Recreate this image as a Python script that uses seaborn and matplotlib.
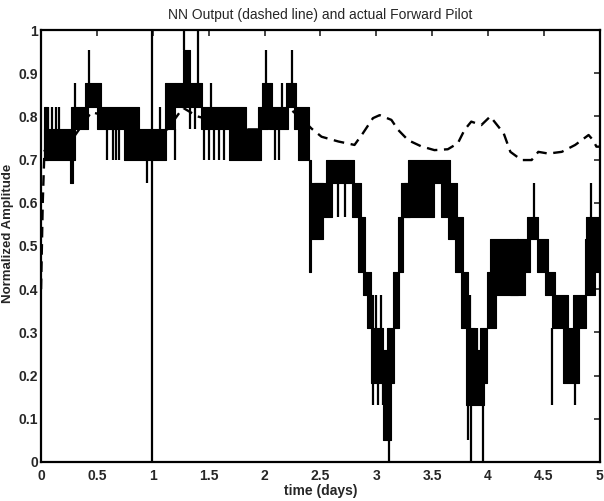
import matplotlib
matplotlib.use("Agg")
import matplotlib.pyplot as plt
import seaborn as sns
import pandas as pd

# quantised "actual Forward Pilot" signal: bands where it flickers between two levels
seg_t0 = [0.03, 0.03, 0.26, 0.27, 0.39, 0.50, 0.74, 1.11, 1.20, 1.27, 1.43, 1.68, 1.94, 1.98, 2.04, 2.19, 2.26, 2.30,
          2.40, 2.41, 2.44, 2.55, 2.78, 2.84, 2.88, 2.92, 2.95, 3.06, 3.10, 3.15, 3.19, 3.22, 3.28, 3.25, 3.58,
          3.64, 3.70, 3.76, 3.80, 3.88, 3.93, 3.99, 4.02, 4.20, 4.26, 4.345, 4.435, 4.51, 4.57, 4.675, 4.76,
          4.87, 4.88]
seg_t1 = [0.06, 0.30, 0.285, 0.42, 0.54, 0.88, 1.12, 1.20, 1.44, 1.33, 1.83, 1.97, 2.03, 2.07, 2.21, 2.28, 2.40, 2.40,
          2.42, 2.52, 2.60, 2.80, 2.86, 2.90, 2.95, 2.97, 3.06, 3.13, 3.16, 3.20, 3.24, 3.30, 3.66, 3.52, 3.66,
          3.72, 3.78, 3.82, 3.88, 3.96, 3.99, 4.07, 4.27, 4.33, 4.375, 4.45, 4.54, 4.60, 4.72, 4.81, 4.88,
          4.96, 5.0]
seg_lo = [0.699, 0.699, 0.645, 0.772, 0.822, 0.772, 0.699, 0.772, 0.822, 0.877, 0.772, 0.699, 0.772, 0.822, 0.772,
          0.822, 0.772, 0.699,
          0.44, 0.516, 0.568, 0.645, 0.568, 0.44, 0.387, 0.31, 0.182, 0.051, 0.182, 0.31, 0.44, 0.568, 0.645, 0.568,
          0.568, 0.516, 0.44, 0.31, 0.132, 0.132, 0.182, 0.31, 0.387, 0.387, 0.44, 0.516, 0.44, 0.387, 0.31, 0.182,
          0.31, 0.387, 0.44]
seg_hi = [0.822, 0.772, 0.699, 0.822, 0.877, 0.822, 0.772, 0.877, 0.877, 0.954, 0.822, 0.772, 0.822, 0.877, 0.822,
          0.877, 0.822, 0.772,
          0.699, 0.645, 0.645, 0.699, 0.645, 0.568, 0.44, 0.387, 0.31, 0.259, 0.31, 0.44, 0.568, 0.645, 0.699, 0.645,
          0.645, 0.645, 0.568, 0.44, 0.31, 0.259, 0.31, 0.44, 0.516, 0.44, 0.516, 0.568, 0.516, 0.44, 0.387, 0.31,
          0.387, 0.516, 0.568]

# isolated spikes of the signal
spike_t = [0.06, 0.10, 0.13, 0.16, 0.30, 0.43, 0.59, 0.64, 0.67, 0.70, 0.945, 0.99, 1.06, 1.20, 1.28, 1.40, 1.33,
           1.38, 1.46, 1.505, 1.55, 1.595, 1.64, 1.52, 2.01, 2.09, 2.13, 2.16, 2.25, 2.66, 2.72, 2.97, 3.015,
           3.06, 3.00, 3.04, 3.11, 3.82, 3.85, 3.955, 3.84, 3.90, 4.41, 4.57, 4.78, 4.92]
spike_lo = [0.772, 0.772, 0.772, 0.772, 0.822, 0.877, 0.699, 0.699, 0.699, 0.699, 0.645, 0.0, 0.772, 0.699, 0.954,
            0.877, 0.772, 0.772, 0.699, 0.699, 0.699, 0.699, 0.699, 0.822, 0.877, 0.699, 0.699, 0.822, 0.877,
            0.568, 0.568, 0.132, 0.132, 0.132, 0.31, 0.31, 0.0, 0.051, 0.0, 0.0, 0.31, 0.259, 0.568, 0.132,
            0.132, 0.568]
spike_hi = [0.822, 0.822, 0.822, 0.822, 0.877, 0.954, 0.772, 0.772, 0.772, 0.772, 0.699, 1.0, 0.822, 0.772, 1.0,
            1.0, 0.822, 0.822, 0.772, 0.772, 0.772, 0.772, 0.772, 0.877, 0.954, 0.772, 0.772, 0.877, 0.954,
            0.645, 0.645, 0.182, 0.182, 0.182, 0.387, 0.387, 0.051, 0.132, 0.132, 0.132, 0.387, 0.31, 0.645,
            0.31, 0.182, 0.645]

# NN output (dashed line)
nn_t = [0.0, 0.015, 0.03, 0.10, 0.20, 0.30, 0.45, 0.60, 0.75, 0.90, 1.00, 1.13, 1.27, 1.40, 1.55, 1.75, 1.97,
        2.10, 2.24, 2.35, 2.42, 2.51, 2.66, 2.805, 2.88, 2.97, 3.03, 3.135, 3.195, 3.285, 3.40, 3.52, 3.64,
        3.73, 3.79, 3.85, 3.94, 4.02, 4.14, 4.20, 4.30, 4.39, 4.45, 4.54, 4.66, 4.78, 4.90, 4.94, 4.97, 5.0]
nn_v = [0.40, 0.60, 0.72, 0.74, 0.74, 0.755, 0.81, 0.80, 0.79, 0.77, 0.76, 0.77, 0.82, 0.80, 0.79, 0.77, 0.77,
        0.80, 0.815, 0.79, 0.772, 0.753, 0.742, 0.734, 0.761, 0.796, 0.803, 0.792, 0.769, 0.745, 0.731, 0.722,
        0.724, 0.738, 0.769, 0.788, 0.78, 0.80, 0.761, 0.718, 0.699, 0.699, 0.718, 0.714, 0.718, 0.734, 0.757,
        0.745, 0.73, 0.73]

sns.set_style("white")
plt.rcParams["font.family"] = ["Liberation Sans", "DejaVu Sans"]

fig = plt.figure(figsize=(6.04, 5.01), dpi=100)
ax = fig.add_axes([0.068, 0.078, 0.925, 0.862])

for t0, t1, lo, hi in zip(seg_t0, seg_t1, seg_lo, seg_hi):
    ax.fill_between([t0, t1], lo, hi, color="black", linewidth=0.8, edgecolor="black")
ax.vlines(spike_t, spike_lo, spike_hi, color="black", linewidth=1.6)

df_nn = pd.DataFrame({"t": nn_t, "v": nn_v})
sns.lineplot(data=df_nn, x="t", y="v", ax=ax, color="black", linewidth=1.7,
             linestyle=(0, (4.5, 2.8)))

ax.set_xlim(0, 5)
ax.set_ylim(0, 1)
ax.set_xticks([0, 0.5, 1, 1.5, 2, 2.5, 3, 3.5, 4, 4.5, 5])
ax.set_xticklabels(["0", "0.5", "1", "1.5", "2", "2.5", "3", "3.5", "4", "4.5", "5"])
ax.set_yticks([0, 0.1, 0.2, 0.3, 0.4, 0.5, 0.6, 0.7, 0.8, 0.9, 1])
ax.set_yticklabels(["0", "0.1", "0.2", "0.3", "0.4", "0.5", "0.6", "0.7", "0.8", "0.9", "1"])
ax.tick_params(direction="in", top=True, right=True, length=4, width=1.2, labelsize=10)
ax.tick_params(axis="x", pad=5)
ax.tick_params(axis="y", pad=2)
for lab in ax.get_xticklabels() + ax.get_yticklabels():
    lab.set_fontweight("bold")
for sp in ax.spines.values():
    sp.set_linewidth(1.6)
    sp.set_color("black")

ax.set_title("NN Output (dashed line) and actual Forward Pilot", fontsize=10, pad=8)
ax.set_xlabel("time (days)", fontsize=10, fontweight="bold", labelpad=1)
ax.set_ylabel("Normalized Amplitude", fontsize=9.5, fontweight="bold")
ax.yaxis.set_label_coords(-0.048, 0.53)

fig.savefig("out.png", dpi=100)
